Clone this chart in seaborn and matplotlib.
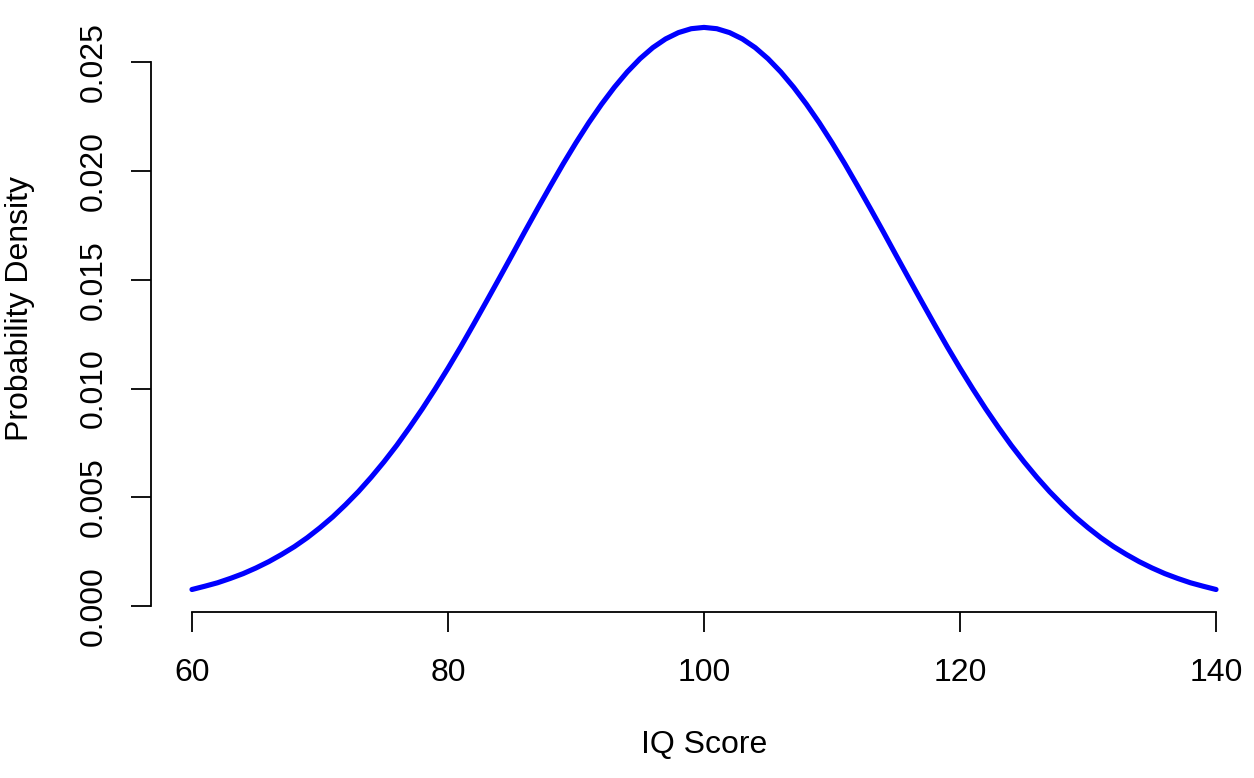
"""
Normal density of IQ scores (mean 100, sd 15), drawn in base-R style.
"""

import matplotlib
matplotlib.use("Agg")
import matplotlib.pyplot as plt
import pandas as pd
import seaborn as sns

# values, one per IQ point
IQ = list(range(60, 141))
LEFT_HALF = [0.00076, 0.00091, 0.00107, 0.00127, 0.00149, 0.00175, 0.00204, 0.00237,
             0.00273, 0.00314, 0.00360, 0.00410, 0.00466, 0.00526, 0.00592, 0.00663,
             0.00739, 0.00821, 0.00907, 0.00998, 0.01093, 0.01192, 0.01295, 0.01400,
             0.01506, 0.01613, 0.01721, 0.01827, 0.01931, 0.02033, 0.02130, 0.02222,
             0.02307, 0.02385, 0.02455, 0.02516, 0.02567, 0.02607, 0.02636, 0.02654]
PEAK = [0.02660]
# the curve is symmetric about 100
DENSITY = LEFT_HALF + PEAK + LEFT_HALF[::-1]
X_TICKS = [60, 80, 100, 120, 140]
Y_TICKS = [0.000, 0.005, 0.010, 0.015, 0.020, 0.025]
Y_TICK_LABELS = ["0.000", "0.005", "0.010", "0.015", "0.020", "0.025"]


def main():
    sns.set_style("ticks")
    plt.rcParams["font.family"] = ["Liberation Sans", "DejaVu Sans"]
    plt.rcParams["text.color"] = "black"
    plt.rcParams["axes.labelcolor"] = "black"

    W, H = 1254, 778
    fig = plt.figure(figsize=(W / 100, H / 100), dpi=100)
    # plot region in pixels: x 151..1257, y 5..612 (R's 4% padding)
    ax = fig.add_axes([151 / W, (H - 612) / H, (1257 - 151) / W, (612 - 5) / H])

    df = pd.DataFrame({"iq": IQ, "density": DENSITY})
    sns.lineplot(data=df, x="iq", y="density", ax=ax, color="#0000FF",
                 linewidth=3.7, solid_capstyle="round", solid_joinstyle="round")

    ax.set_xlim(56.8, 143.2)
    ax.set_ylim(-0.000274, 0.02763)

    ax.set_xticks(X_TICKS)
    ax.set_xticklabels([str(v) for v in X_TICKS])
    ax.set_yticks(Y_TICKS)
    ax.set_yticklabels(Y_TICK_LABELS, rotation=90, va="center")

    for side in ["top", "right"]:
        ax.spines[side].set_visible(False)
    ax.spines["bottom"].set_bounds(60, 140)
    ax.spines["left"].set_bounds(0, 0.025)
    for side in ["bottom", "left"]:
        ax.spines[side].set_linewidth(1.3)
        ax.spines[side].set_color("black")

    ax.tick_params(axis="both", direction="out", length=14.4, width=1.3,
                   labelsize=23, colors="black", labelcolor="black")
    ax.tick_params(axis="x", pad=19)
    ax.tick_params(axis="y", pad=16)

    ax.set_xlabel("IQ Score", fontsize=23, color="black")
    ax.set_ylabel("Probability Density", fontsize=23, color="black")
    ax.xaxis.label.set_va("center")
    ax.yaxis.label.set_va("center")
    ax.xaxis.set_label_coords(0.5, -(745 - 612) / 607)
    ax.yaxis.set_label_coords(-(151 - 20) / 1106, 0.5)

    ax.grid(False)
    fig.savefig("out.png", dpi=100, facecolor="white")
    plt.close(fig)


if __name__ == "__main__":
    main()
